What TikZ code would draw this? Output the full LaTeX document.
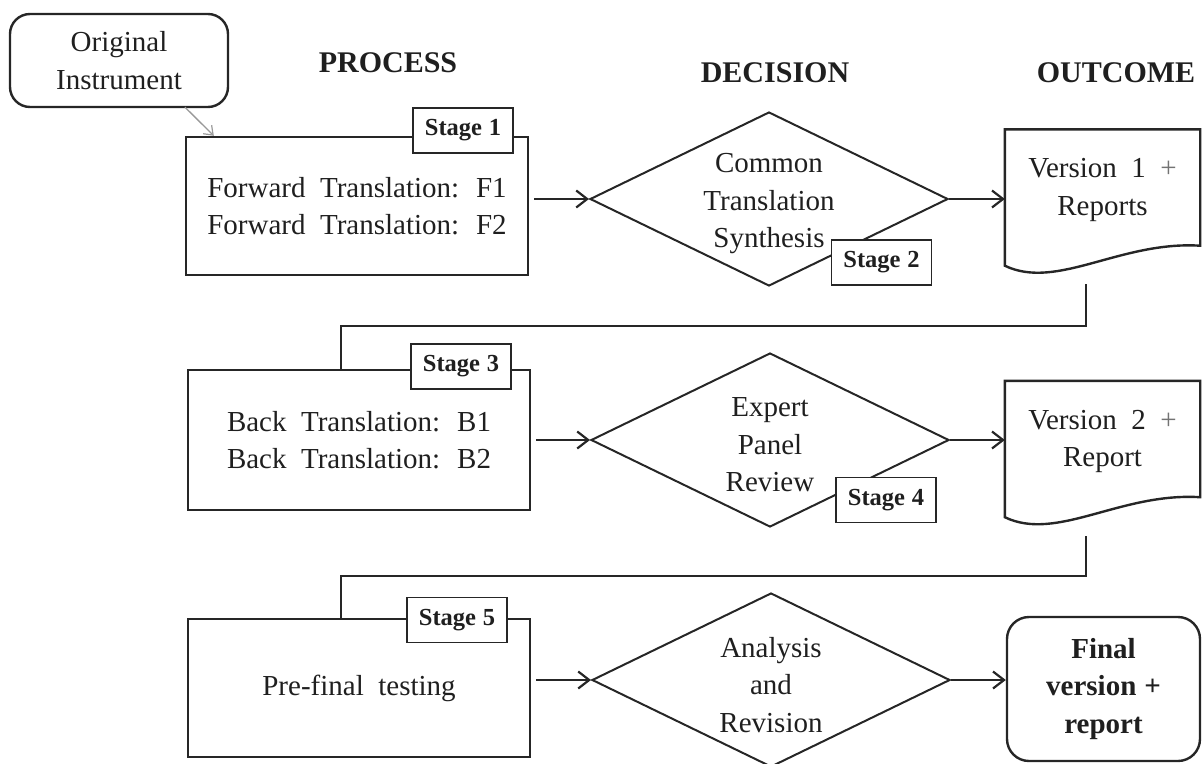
\documentclass[tikz,border=0pt]{standalone}
\usepackage{fontspec}
\setmainfont{Liberation Serif}[WordSpace=2]
\newfontfamily\tagfont{Liberation Serif}[WordSpace=0.5]
\newfontfamily\finfont{Liberation Serif}[WordSpace=1.1]
\usetikzlibrary{shapes.geometric,arrows.meta}
\newcommand\mainsz{\fontsize{29}{37.5}\selectfont}
\newcommand\tagsz{\tagfont\fontsize{24.5}{28}\selectfont\bfseries}
\newcommand\headsz{\fontsize{30}{34}\selectfont\bfseries}
\begin{document}
\begin{tikzpicture}[x=1pt,y=-1pt,
  every node/.style={text=black!88},
  ink/.style={draw=black!85, line width=2.4pt},
  procbox/.style={ink, rectangle, minimum width=342pt, minimum height=138pt, inner sep=0pt, align=center, font=\mainsz},
  stagetag/.style={draw=black!85, line width=1.8pt, fill=white, minimum width=100pt, minimum height=45pt, inner sep=0pt, font=\tagsz},
  decision/.style={draw=black!85, line width=2pt, diamond, minimum width=358pt, minimum height=174pt, inner sep=0pt},
  dectext/.style={font=\mainsz, align=center, inner sep=0pt, yshift=-5pt},
  docnode/.style={rectangle, minimum width=195pt, minimum height=121pt, inner sep=0pt, align=center, font=\mainsz},
  header/.style={font=\headsz, anchor=base, inner sep=0pt},
  arr/.style={draw=black!85, line width=2.4pt, -{Straight Barb[length=11pt,width=17pt,line width=2.2pt]}},
  grayarr/.style={draw=black!40, line width=1.3pt, -{Straight Barb[length=8pt,width=12pt,line width=1.2pt]}},
  conn/.style={draw=black!85, line width=1.6pt},
]
\useasboundingbox (0,0) rectangle (1202,763);
\clip (0,0) rectangle (1202,763);

% headers
\node[header] (hp) at (388,72) {PROCESS};
\node[header] (hd) at (775,82) {DECISION};
\node[header] (ho) at (1116,82) {OUTCOME};

% original instrument
\node[ink, rounded corners=20pt, minimum width=218pt, minimum height=93pt, inner sep=0pt, align=center, font=\mainsz] (orig) at (119,60.5) {Original\\Instrument};

% row 1
\node[procbox] (b1) at (357,206) {Forward Translation: F1\\Forward Translation: F2};
\node[decision, label={[dectext]center:{Common\\Translation\\Synthesis}}] (d1) at (769,199) {};
\node[docnode] (v1) at (1102.5,190) {Version 1 \textcolor{black!55}{+}\\Reports};
\draw[ink] (v1.north west) -- (v1.north east) -- ([yshift=5pt]v1.south east)
  .. controls ([xshift=-80pt,yshift=10pt]v1.south east) and ([xshift=52pt,yshift=-40pt]v1.south west) .. ([yshift=-15pt]v1.south west) -- cycle;
\node[stagetag] (s1) at (463,130.5) {Stage 1};
\node[stagetag] (s2) at (881.5,262.5) {Stage 2};

% row 2
\node[procbox, minimum height=140pt] (b3) at (359,440) {Back Translation: B1\\Back Translation: B2};
\node[decision, label={[dectext]center:{Expert\\Panel\\Review}}] (d2) at (770,440) {};
\node[docnode] (v2) at (1102.5,441.5) {Version 2 \textcolor{black!55}{+}\\Report};
\draw[ink] (v2.north west) -- (v2.north east) -- ([yshift=5pt]v2.south east)
  .. controls ([xshift=-80pt,yshift=10pt]v2.south east) and ([xshift=52pt,yshift=-40pt]v2.south west) .. ([yshift=-15pt]v2.south west) -- cycle;
\node[stagetag] (s3) at (461,366.5) {Stage 3};
\node[stagetag] (s4) at (886,500) {Stage 4};

% row 3
\node[procbox] (b5) at (359,688) {Pre-final testing};
\node[decision, label={[dectext]center:{Analysis\\and\\Revision}}] (d3) at (771,680) {};
\node[ink, rounded corners=22pt, minimum width=193pt, minimum height=144pt, inner sep=0pt, align=center, font=\finfont\fontsize{29}{37.5}\selectfont\bfseries] (fin) at (1103.5,689) {Final\\version +\\report};
\node[stagetag] (s5) at (457,620) {Stage 5};

% arrows
\draw[grayarr] ([xshift=66pt,yshift=1pt]orig.south) -- ([xshift=29pt]b1.north west);
\draw[arr, shorten <=5pt] (b1.east |- d1.west) -- (d1.west);
\draw[arr] (d1.east) -- (d1.east -| v1.west);
\draw[arr, shorten <=5pt] (b3.east |- d2.west) -- (d2.west);
\draw[arr] (d2.east) -- (d2.east -| v2.west);
\draw[arr, shorten <=5pt] (b5.east |- d3.west) -- (d3.west);
\draw[arr] (d3.east) -- (d3.east -| fin.west);

% connectors between rows
\coordinate (c1) at (1086,284);
\coordinate (c2) at (1086,536);
\draw[conn] (c1) -- ++(0,42) -| ([xshift=-18pt]b3.north);
\draw[conn] (c2) -- ++(0,40) -| ([xshift=-18pt]b5.north);
\end{tikzpicture}
\end{document}
